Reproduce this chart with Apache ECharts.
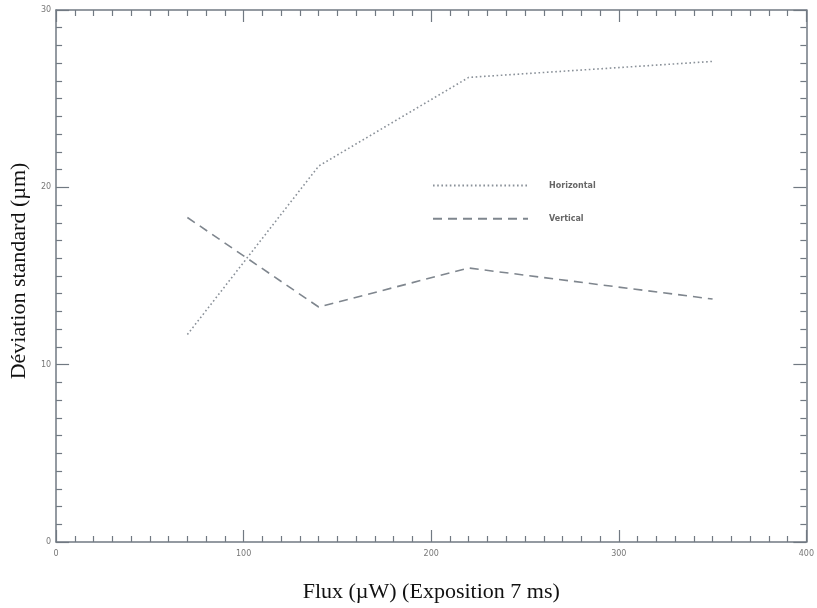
<!DOCTYPE html>
<html><head><meta charset="utf-8">
<script src="https://cdn.jsdelivr.net/npm/echarts@6/dist/echarts.min.js"></script>
<style>html,body{margin:0;padding:0;background:#fff;overflow:hidden}#c{width:817px;height:608px}</style>
</head><body><div id="c"></div>
<script>
const flux = [70, 140, 220, 350];
const horizontal = [11.7, 21.2, 26.2, 27.1];
const vertical = [18.3, 13.25, 15.45, 13.7];
const seriesNames = ['Horizontal', 'Vertical'];
const xName = 'Flux (\u00B5W) (Exposition 7 ms)';
const yName = 'D\u00E9viation standard (\u00B5m)';

const axisColor = '#717982';
const chart = echarts.init(document.getElementById('c'), null, {renderer: 'canvas', width: 817, height: 608});
const baseX = {
  type: 'value', min: 0, max: 400, interval: 100,
  axisLine: {show: true, onZero: false, lineStyle: {color: axisColor, width: 1.5}},
  axisTick: {show: true, inside: true, length: 12, lineStyle: {color: axisColor, width: 1.2}},
  minorTick: {show: true, splitNumber: 10, length: 6, lineStyle: {color: axisColor, width: 1.2}},
  splitLine: {show: false}, minorSplitLine: {show: false}
};
const baseY = {
  type: 'value', min: 0, max: 30, interval: 10,
  axisLine: {show: true, onZero: false, lineStyle: {color: axisColor, width: 1.5}},
  axisTick: {show: true, inside: true, length: 13, lineStyle: {color: axisColor, width: 1.2}},
  minorTick: {show: true, splitNumber: 10, length: 6, lineStyle: {color: axisColor, width: 1.2}},
  splitLine: {show: false}, minorSplitLine: {show: false}
};
chart.setOption({
  animation: false,
  backgroundColor: '#fff',
  grid: {left: 52, right: 4, top: 10, bottom: 64, containLabel: false},
  legend: {
    orient: 'vertical', left: 432, top: 180, padding: 0,
    itemWidth: 95, itemHeight: 14, itemGap: 22,
    itemStyle: {opacity: 0},
    textStyle: {fontSize: 8, fontWeight: 'bold', color: '#666', fontFamily: 'DejaVu Sans', padding: [0, 0, 0, 16]},
    data: seriesNames
  },
  xAxis: [
    Object.assign({}, baseX, {
      position: 'bottom',
      axisLabel: {show: true, margin: 8, fontSize: 8, color: '#777', fontFamily: 'DejaVu Sans'},
      name: xName, nameLocation: 'middle', nameGap: 39,
      nameTextStyle: {fontFamily: 'Liberation Serif', fontSize: 22, color: '#111'}
    }),
    Object.assign({}, baseX, {position: 'top', axisLabel: {show: false}})
  ],
  yAxis: [
    Object.assign({}, baseY, {
      position: 'left',
      axisLabel: {show: true, margin: 5, fontSize: 8, color: '#777', fontFamily: 'DejaVu Sans'},
      name: yName, nameLocation: 'middle', nameGap: 20,
      nameTextStyle: {fontFamily: 'Liberation Serif', fontSize: 22, color: '#111', padding: [0, 0, 0, 10]}
    }),
    Object.assign({}, baseY, {position: 'right', axisLabel: {show: false}})
  ],
  series: [
    {
      name: seriesNames[0], type: 'line', symbol: 'none',
      data: flux.map((x, i) => [x, horizontal[i]]),
      lineStyle: {color: '#8a9199', width: 1.6, type: [1.6, 2.6]},
      itemStyle: {color: '#8a9199'}
    },
    {
      name: seriesNames[1], type: 'line', symbol: 'none',
      data: flux.map((x, i) => [x, vertical[i]]),
      lineStyle: {color: '#7f868e', width: 1.6, type: [9, 6]},
      itemStyle: {color: '#7f868e'}
    }
  ]
});
</script></body></html>
